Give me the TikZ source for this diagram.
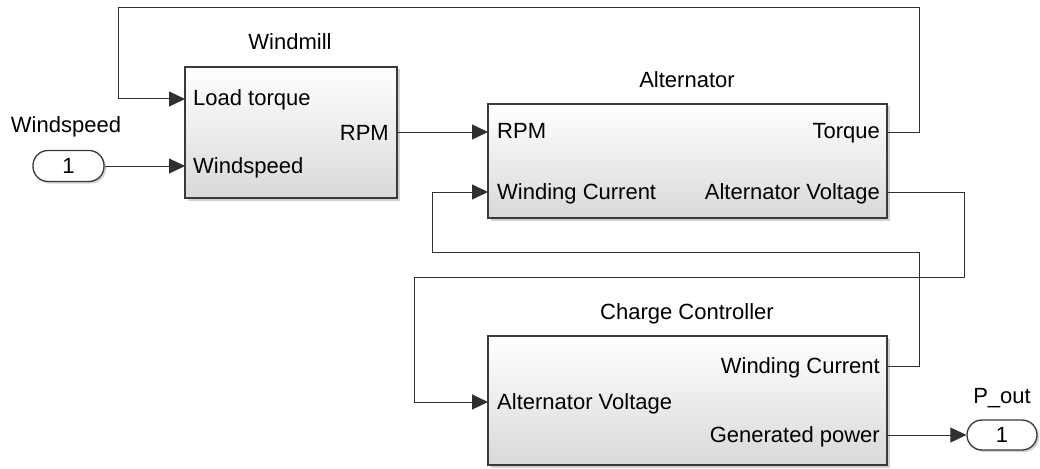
\documentclass[tikz,border=0pt]{standalone}
\usepackage{fontspec}
\setmainfont{Liberation Sans}
\usetikzlibrary{arrows.meta,shadows}
\definecolor{linecol}{HTML}{303030}
\definecolor{bordercol}{HTML}{3A3A3A}
\tikzset{
  block/.style={draw=bordercol, line width=1.3pt, rectangle, top color=white, bottom color=black!15,
    drop shadow={shadow xshift=2.5pt, shadow yshift=-2.5pt, opacity=0.35}, inner sep=0pt},
  port/.style={draw=bordercol, line width=1.3pt, rectangle, rounded corners=15pt, fill=white,
    drop shadow={shadow xshift=2pt, shadow yshift=-2pt, opacity=0.35}, inner sep=0pt,
    minimum width=71pt, minimum height=31pt},
  sig/.style={draw=linecol, line width=1pt, -{Triangle[length=16pt,width=15pt]}},
  plab/.style={inner sep=0pt, font=\fontsize{22}{26}\selectfont},
  title/.style={inner sep=0pt, anchor=base, font=\fontsize{22}{26}\selectfont},
}
\begin{document}
\begin{tikzpicture}[x=1pt,y=-1pt]
\useasboundingbox[fill=white] (0,0) rectangle (1040,468);

% blocks
\node[block, minimum width=212pt, minimum height=131pt] (wm) at (291,132.5) {};
\node[block, minimum width=399pt, minimum height=114pt] (alt) at (687.5,161) {};
\node[block, minimum width=399pt, minimum height=129pt] (cc) at (687.5,400.5) {};

% titles
\node[title] (wmt) at (290,50) {Windmill};
\node[title] (altt) at (687,88) {Alternator};
\node[title] (cct) at (687,319) {Charge Controller};

% in/out ports
\node[port] (in1) at (68.5,166) {\fontsize{22}{26}\selectfont 1};
\node[title] (in1t) at (66,132) {Windspeed};
\node[port, minimum width=70pt, minimum height=30pt] (out1) at (1002,435) {\fontsize{22}{26}\selectfont 1};
\node[title] (out1t) at (1002,403) {P\_out};

% port coordinates
\coordinate (wmLT) at (185,99);
\coordinate (wmWS) at (185,166);
\coordinate (wmRPM) at (397,132);
\coordinate (altRPM) at (488,132);
\coordinate (altWC) at (488,192);
\coordinate (altTQ) at (887,132);
\coordinate (altAV) at (887,192);
\coordinate (ccAV) at (488,402);
\coordinate (ccWC) at (887,366);
\coordinate (ccGP) at (887,435);

% port labels
\node[plab, anchor=base west] (l1) at (193,106) {Load torque};
\node[plab, anchor=base west] (l2) at (193,173) {Windspeed};
\node[plab, anchor=base east] (l3) at (389,140) {RPM};
\node[plab, anchor=base west] (l4) at (497,139) {RPM};
\node[plab, anchor=base west] (l5) at (497,199) {Winding Current};
\node[plab, anchor=base east] (l6) at (880,139) {Torque};
\node[plab, anchor=base east] (l7) at (880,199) {Alternator Voltage};
\node[plab, anchor=base west] (l8) at (497,409) {Alternator Voltage};
\node[plab, anchor=base east] (l9) at (880,373) {Winding Current};
\node[plab, anchor=base east] (l10) at (880,442) {Generated power};

% connectors
\draw[sig] (in1) -- (wmWS);
\draw[sig] (wmRPM) -- (altRPM);
\draw[sig] (altTQ) -- (919,132) -- (919,8) -- (118,8) -- (118,99) -- (wmLT);
\draw[sig] (altAV) -- (964,192) -- (964,277) -- (414,277) -- (414,402) -- (ccAV);
\draw[sig] (ccWC) -- (919,366) -- (919,252) -- (432,252) -- (432,192) -- (altWC);
\draw[sig] (ccGP) -- (out1);
\end{tikzpicture}
\end{document}
